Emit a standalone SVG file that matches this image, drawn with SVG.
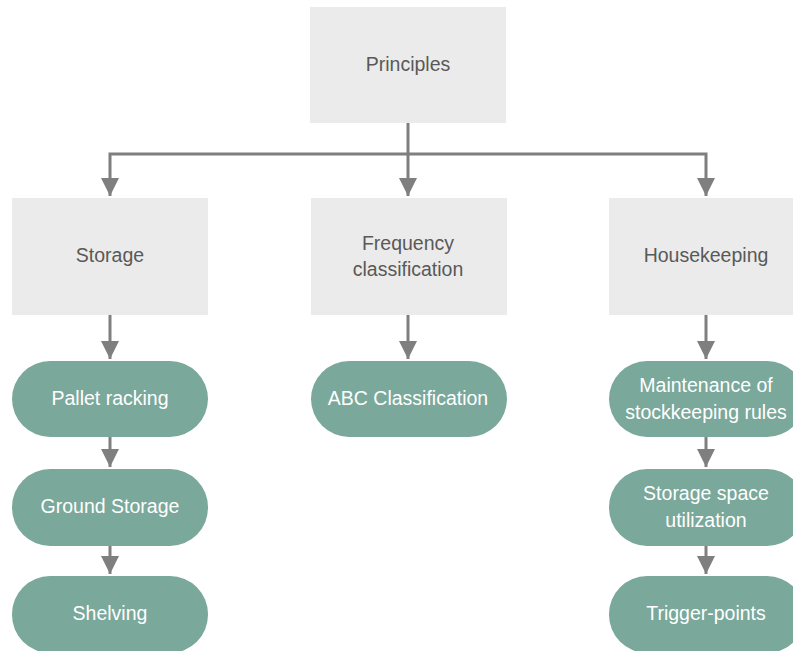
<svg xmlns="http://www.w3.org/2000/svg" width="793" height="651" viewBox="0 0 793 651">
<defs>
<marker id="ah" markerUnits="userSpaceOnUse" markerWidth="18" markerHeight="18" refX="18" refY="9" orient="auto">
<path d="M0,0 L18,9 L0,18 z" fill="#7f7f7f"/>
</marker>
<style>
.box{fill:#ebebeb}
.pill{fill:#7aa89b}
.bt{font-family:"Liberation Sans",Arial,sans-serif;font-size:19.5px;fill:#595959;text-anchor:middle}
.pt{font-family:"Liberation Sans",Arial,sans-serif;font-size:19.5px;fill:#ffffff;text-anchor:middle}
.c{fill:none;stroke:#7f7f7f;stroke-width:3;marker-end:url(#ah)}
</style>
</defs>
<rect width="793" height="651" fill="#ffffff"/>
<g id="connectors">
<path class="c" d="M408,123 V196"/>
<path class="c" d="M408,154 H110 V196"/>
<path class="c" d="M408,154 H706 V196"/>
<path class="c" d="M110,315 V359"/>
<path class="c" d="M110,437 V467"/>
<path class="c" d="M110,546 V574"/>
<path class="c" d="M408,315 V359"/>
<path class="c" d="M706,315 V359"/>
<path class="c" d="M706,437 V467"/>
<path class="c" d="M706,546 V574"/>
</g>
<g id="principles"><rect class="box" x="310" y="7" width="196" height="116"/><text class="bt" x="408" y="71">Principles</text></g>
<g id="storage"><rect class="box" x="12" y="198" width="196" height="117"/><text class="bt" x="110" y="262">Storage</text></g>
<g id="frequency"><rect class="box" x="311" y="198" width="196" height="117"/><text class="bt" x="408" y="250">Frequency</text><text class="bt" x="408" y="276">classification</text></g>
<g id="housekeeping"><rect class="box" x="609" y="198" width="196" height="117"/><text class="bt" x="706" y="262">Housekeeping</text></g>
<g id="pallet"><rect class="pill" x="12" y="361" width="196" height="76" rx="38"/><text class="pt" x="110" y="405">Pallet racking</text></g>
<g id="ground"><rect class="pill" x="12" y="469" width="196" height="77" rx="38"/><text class="pt" x="110" y="513">Ground Storage</text></g>
<g id="shelving"><rect class="pill" x="12" y="576" width="196" height="77" rx="38"/><text class="pt" x="110" y="620">Shelving</text></g>
<g id="abc"><rect class="pill" x="311" y="361" width="196" height="76" rx="38"/><text class="pt" x="408" y="405">ABC Classification</text></g>
<g id="maintenance"><rect class="pill" x="609" y="361" width="196" height="76" rx="38"/><text class="pt" x="706" y="392">Maintenance of</text><text class="pt" x="706" y="419">stockkeeping rules</text></g>
<g id="utilization"><rect class="pill" x="609" y="469" width="196" height="77" rx="38"/><text class="pt" x="706" y="500">Storage space</text><text class="pt" x="706" y="527">utilization</text></g>
<g id="trigger"><rect class="pill" x="609" y="576" width="196" height="77" rx="38"/><text class="pt" x="706" y="620">Trigger-points</text></g>
</svg>
